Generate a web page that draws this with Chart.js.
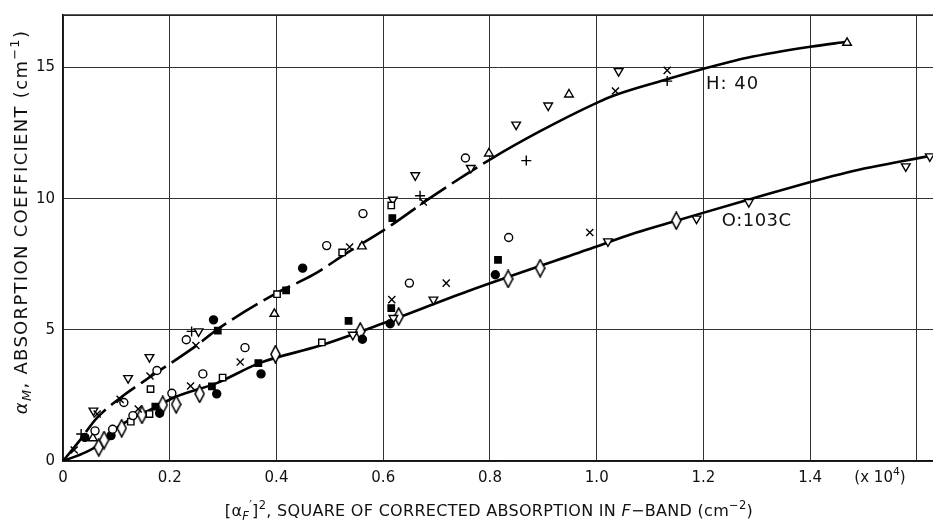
<!DOCTYPE html>
<html>
<head>
<meta charset="utf-8">
<script src="https://cdn.jsdelivr.net/npm/chart.js@4.4.1/dist/chart.umd.min.js"></script>
<style>body{margin:0;background:#fff}</style>
</head>
<body>
<canvas id="chart" width="933" height="527"></canvas>
<script>
// fitted curves
const h40X = [0, 0.03, 0.064, 0.107, 0.163, 0.25, 0.288, 0.40, 0.469, 0.532, 0.616, 0.688, 0.80, 0.894, 1.0, 1.035, 1.132, 1.20, 1.282, 1.40, 1.469];
const h40Y = [0, 0.75, 1.65, 2.4, 3.2, 4.4, 5.0, 6.4, 7.1, 7.93, 9.0, 10.03, 11.49, 12.57, 13.65, 13.95, 14.55, 14.95, 15.37, 15.79, 15.98];
const o103X = [0, 0.044, 0.069, 0.094, 0.131, 0.176, 0.206, 0.288, 0.369, 0.482, 0.60, 0.757, 0.982, 1.073, 1.151, 1.282, 1.469, 1.63];
const o103Y = [0, 0.35, 0.65, 1.15, 1.64, 2.07, 2.40, 2.97, 3.74, 4.40, 5.25, 6.46, 8.05, 8.7, 9.17, 9.95, 11.0, 11.65];

// measured points, one pair of arrays per marker
const crossX = [0.021, 0.064, 0.107, 0.163, 0.141, 0.239, 0.249, 0.332, 0.537, 0.616, 0.675, 0.718, 0.987, 1.035, 1.132];
const crossY = [0.42, 1.79, 2.35, 3.24, 1.98, 2.86, 4.40, 3.77, 8.16, 6.15, 9.87, 6.78, 8.71, 14.10, 14.89];
const plusX = [0.034, 0.241, 0.669, 0.868, 1.132];
const plusY = [1.03, 4.94, 10.11, 11.45, 14.48];
const openCircX = [0.060, 0.114, 0.176, 0.093, 0.131, 0.204, 0.231, 0.262, 0.341, 0.494, 0.562, 0.649, 0.754, 0.835];
const openCircY = [1.15, 2.23, 3.45, 1.21, 1.73, 2.58, 4.62, 3.32, 4.32, 8.21, 9.43, 6.78, 11.55, 8.52];
const fillCircX = [0.041, 0.090, 0.181, 0.282, 0.288, 0.371, 0.449, 0.561, 0.613, 0.810];
const fillCircY = [0.90, 0.97, 1.82, 5.38, 2.56, 3.32, 7.35, 4.64, 5.23, 7.10];
const openSqX = [0.164, 0.127, 0.162, 0.299, 0.401, 0.485, 0.523, 0.615];
const openSqY = [2.74, 1.50, 1.79, 3.18, 6.36, 4.52, 7.95, 9.74];
const fillSqX = [0.173, 0.290, 0.279, 0.366, 0.418, 0.535, 0.615, 0.617, 0.815];
const fillSqY = [2.07, 4.97, 2.84, 3.73, 6.50, 5.34, 5.83, 9.26, 7.67];
const triUpX = [0.056, 0.396, 0.560, 0.798, 0.948, 1.469];
const triUpY = [0.87, 5.61, 8.18, 11.72, 13.97, 15.94];
const triDownX = [0.057, 0.122, 0.162, 0.254, 0.543, 0.618, 0.619, 0.660, 0.694, 0.764, 0.849, 0.909, 1.041, 1.021, 1.187, 1.285, 1.579, 1.624];
const triDownY = [1.92, 3.16, 3.96, 4.94, 4.81, 9.96, 5.45, 10.89, 6.15, 11.17, 12.82, 13.55, 14.86, 8.37, 9.24, 9.87, 11.23, 11.61];
const diamondX = [0.067, 0.077, 0.110, 0.148, 0.187, 0.212, 0.256, 0.398, 0.557, 0.629, 0.834, 0.894, 1.149];
const diamondY = [0.52, 0.80, 1.25, 1.76, 2.14, 2.16, 2.56, 4.07, 4.94, 5.51, 6.94, 7.35, 9.16];

const xTickLabels = ['0', '0.2', '0.4', '0.6', '0.8', '1.0', '1.2', '1.4', ''];
const yTickLabels = ['0', '5', '10', '15', ''];

const FONT = '"DejaVu Sans", sans-serif';
const zip = (xs, ys) => xs.map((x, i) => ({x: x, y: ys[i]}));

function tallDiamond() {
  const c = document.createElement('canvas');
  c.width = 11; c.height = 19;
  const g = c.getContext('2d');
  g.fillStyle = '#fff'; g.strokeStyle = '#000'; g.lineWidth = 1.6;
  g.beginPath();
  g.moveTo(5.5, 1); g.lineTo(10, 9.5); g.lineTo(5.5, 18); g.lineTo(1, 9.5);
  g.closePath(); g.fill(); g.stroke();
  return c;
}

function marker(xs, ys, style, opts) {
  return Object.assign({
    data: zip(xs, ys),
    showLine: false,
    pointStyle: style,
    pointRadius: 4,
    pointBorderColor: '#000',
    pointBackgroundColor: '#fff',
    pointBorderWidth: 1.4,
    order: 1
  }, opts || {});
}

function curve(xs, ys, dashUntil) {
  return {
    data: zip(xs, ys),
    showLine: true,
    pointRadius: 0,
    borderColor: '#000',
    borderWidth: 2.6,
    cubicInterpolationMode: 'monotone',
    segment: {
      borderDash: ctx => ctx.p0.parsed.x < dashUntil ? [30, 7] : undefined
    },
    order: 2
  };
}

// text with sub/superscripts, centred at (cx, cy), optionally rotated
function drawRich(ctx, segs, cx, cy, angle, size, spacing) {
  ctx.save();
  ctx.translate(cx, cy);
  ctx.rotate(angle);
  ctx.textBaseline = 'middle';
  ctx.textAlign = 'left';
  ctx.letterSpacing = (spacing || 0) + 'px';
  let total = 0;
  segs.forEach(s => {
    const fs = s.sub || s.sup ? size * 0.72 : size;
    ctx.font = (s.it ? 'italic ' : '') + fs + 'px ' + FONT;
    s.w = ctx.measureText(s.t).width;
    s.fs = fs;
    total += s.w;
  });
  let x = -total / 2;
  segs.forEach(s => {
    ctx.font = (s.it ? 'italic ' : '') + s.fs + 'px ' + FONT;
    const dy = s.sub ? size * 0.3 : (s.sup ? -size * 0.38 : 0);
    ctx.fillStyle = '#111';
    ctx.fillText(s.t, x, dy);
    x += s.w;
  });
  ctx.restore();
}

const textPlugin = {
  id: 'texts',
  afterDraw(chart) {
    const ctx = chart.ctx, a = chart.chartArea;
    const sx = chart.scales.x, sy = chart.scales.y;
    ctx.save();
    ctx.strokeStyle = '#222';
    ctx.lineWidth = 1.5;
    ctx.beginPath();
    ctx.moveTo(a.left, a.top); ctx.lineTo(a.right, a.top);
    ctx.stroke();
    ctx.restore();

    drawRich(ctx, [{t: 'H: 40'}], sx.getPixelForValue(1.20) + 29, sy.getPixelForValue(14.35), 0, 18, 1);
    drawRich(ctx, [{t: 'O:103C'}], sx.getPixelForValue(1.236) + 34, sy.getPixelForValue(9.12), 0, 18, 0.5);
    drawRich(ctx, [{t: '(x 10'}, {t: '4', sup: true}, {t: ')'}], 880, 478, 0, 15);

    drawRich(ctx, [
      {t: '[α'}, {t: 'F', sub: true, it: true}, {t: '′', sup: true}, {t: ']'}, {t: '2', sup: true},
      {t: ', SQUARE OF CORRECTED ABSORPTION IN '}, {t: 'F', it: true}, {t: '−BAND (cm'},
      {t: '−2', sup: true}, {t: ')'}
    ], 489, 512, 0, 16, 0.3);

    drawRich(ctx, [
      {t: 'α', it: true}, {t: 'M', sub: true, it: true}, {t: ', ABSORPTION COEFFICIENT (cm'},
      {t: '−1', sup: true}, {t: ')'}
    ], 22, 222, -Math.PI / 2, 18, 1.3);
  }
};

new Chart(document.getElementById('chart'), {
  type: 'scatter',
  data: {
    datasets: [
      curve(h40X, h40Y, 0.69),
      curve(o103X, o103Y, 0),
      marker(crossX, crossY, 'crossRot', {pointRadius: 5}),
      marker(plusX, plusY, 'cross', {pointRadius: 5}),
      marker(openCircX, openCircY, 'circle', {pointRadius: 4}),
      marker(fillCircX, fillCircY, 'circle', {pointRadius: 4, pointBackgroundColor: '#000'}),
      marker(openSqX, openSqY, 'rect', {pointRadius: 4.5}),
      marker(fillSqX, fillSqY, 'rect', {pointRadius: 4.5, pointBackgroundColor: '#000'}),
      marker(triUpX, triUpY, 'triangle', {pointRadius: 5}),
      marker(triDownX, triDownY, 'triangle', {pointRadius: 5, pointRotation: 180}),
      marker(diamondX, diamondY, tallDiamond())
    ]
  },
  options: {
    responsive: false,
    animation: false,
    layout: {autoPadding: false, padding: {top: 15, right: 0, left: 0, bottom: 0}},
    plugins: {legend: {display: false}, tooltip: {enabled: false}},
    scales: {
      x: {
        type: 'linear', min: 0, max: 1.63,
        ticks: {
          stepSize: 0.2, includeBounds: false, autoSkip: false, maxRotation: 0, padding: 8,
          color: '#111', font: {family: FONT, size: 15},
          callback: (v, i) => xTickLabels[i] ?? ''
        },
        grid: {color: '#333', lineWidth: 1, drawTicks: false},
        border: {color: '#111', width: 1.5},
        afterFit: s => { s.height = 66; s.paddingLeft = 0; s.paddingRight = 0; }
      },
      y: {
        min: 0, max: 17,
        ticks: {
          stepSize: 5, padding: 8,
          color: '#111', font: {family: FONT, size: 15},
          callback: (v, i) => yTickLabels[i] ?? ''
        },
        grid: {color: '#333', lineWidth: 1, drawTicks: false},
        border: {color: '#111', width: 1.5},
        afterFit: s => { s.width = 63; s.paddingTop = 0; s.paddingBottom = 0; }
      }
    }
  },
  plugins: [textPlugin]
});
</script>
</body>
</html>
